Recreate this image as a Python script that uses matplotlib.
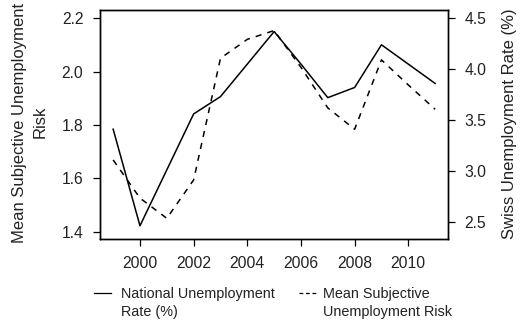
import matplotlib
matplotlib.use("Agg")
import matplotlib.pyplot as plt
from matplotlib.lines import Line2D

plt.rcParams['font.family'] = ['Liberation Sans', 'DejaVu Sans']

years = [1999, 2000, 2001, 2002, 2003, 2004, 2005, 2006, 2007, 2008, 2009, 2010, 2011]
national_rate = [3.41, 2.46, 3.01, 3.56, 3.73, 4.05, 4.37, 4.05, 3.72, 3.82, 4.24, 4.05, 3.86]
subjective_risk = [1.669, 1.526, 1.450, 1.594, 2.050, 2.121, 2.154, 2.016, 1.864, 1.784, 2.044, 1.950, 1.859]

left_ticks = [1.4, 1.6, 1.8, 2.0, 2.2]
right_ticks = [2.5, 3.0, 3.5, 4.0, 4.5]
year_ticks = [2000, 2002, 2004, 2006, 2008, 2010]

left_label = ["Mean Subjective Unemployment", "Risk"]
right_label = "Swiss Unemployment Rate (%)"
label_solid = ["National Unemployment", "Rate (%)"]
label_dashed = ["Mean Subjective", "Unemployment Risk"]

W, H = 520, 322
txt = '#222222'
tick_fs = 11.3
label_fs = 12
legend_fs = 10.4
lw = 1.1


def fx(px):
    return px / W


def fy(py):
    return 1 - py / H


fig = plt.figure(figsize=(W / 100, H / 100), dpi=100)
ax = fig.add_axes([fx(100), fy(239), fx(348), 229 / H])
ax2 = ax.twinx()

ax.plot(years, subjective_risk, color='black', lw=lw, linestyle=(0, (4, 4)))
ax2.plot(years, national_rate, color='black', lw=lw)

ax.set_xlim(1998.51, 2011.48)
ax.set_ylim(1.3726, 2.231)
ax2.set_ylim(2.330, 4.582)

ax.set_xticks(year_ticks)
ax.set_xticklabels([str(y) for y in year_ticks])
ax.set_yticks(left_ticks)
ax.set_yticklabels([f"{v:.1f}" for v in left_ticks])
ax2.set_yticks(right_ticks)
ax2.set_yticklabels([f"{v:.1f}" for v in right_ticks])

for a in (ax, ax2):
    for s in a.spines.values():
        s.set_linewidth(1.0)
        s.set_color('black')
    a.tick_params(direction='out', length=5, width=0.9, color='black',
                  labelsize=tick_fs, labelcolor=txt, pad=7)
ax.tick_params(axis='x', pad=7.5)

# axis titles, rotated, anchored on their baselines
fig.text(fx(24), fy(123.4), left_label[0], rotation=90, rotation_mode='anchor',
         ha='center', va='baseline', fontsize=label_fs, color=txt)
fig.text(fx(45), fy(121.5), left_label[1], rotation=90, rotation_mode='anchor',
         ha='center', va='baseline', fontsize=label_fs, color=txt)
fig.text(fx(514), fy(124), right_label, rotation=90, rotation_mode='anchor',
         ha='center', va='baseline', fontsize=label_fs, color=txt)

# legend below the plot
hy = fy(293.3)
fig.add_artist(Line2D([fx(94), fx(110.7)], [hy, hy], transform=fig.transFigure,
                      color='black', lw=0.9))
fig.add_artist(Line2D([fx(299.3), fx(316)], [hy, hy], transform=fig.transFigure,
                      color='black', lw=0.9, linestyle=(0, (3, 2.2))))
for x0, lines in ((121, label_solid), (323.3, label_dashed)):
    for i, line in enumerate(lines):
        fig.text(fx(x0), fy(298.3 + 17.4 * i), line, ha='left', va='baseline',
                 fontsize=legend_fs, color=txt)

fig.savefig("out.png", dpi=100)
